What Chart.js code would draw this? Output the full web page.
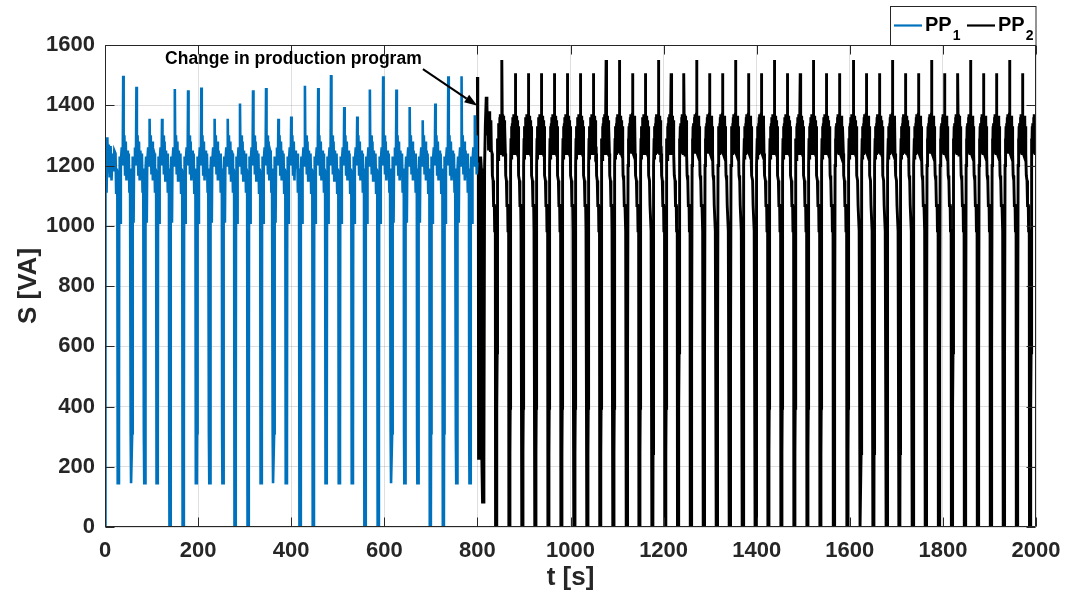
<!DOCTYPE html>
<html>
<head>
<meta charset="utf-8">
<title>Apparent power S, production programs PP1 and PP2</title>
<script src="https://cdn.jsdelivr.net/npm/chart.js@4.4.1/dist/chart.umd.min.js"></script>
<style>
  html, body { margin: 0; padding: 0; background: #ffffff; }
  canvas { display: block; }
</style>
</head>
<body>
<canvas id="chart" width="1066" height="599"></canvas>
<script>
// ---- axis ticks ----
const xTicks = [0, 200, 400, 600, 800, 1000, 1200, 1400, 1600, 1800, 2000];
const yTicks = [0, 200, 400, 600, 800, 1000, 1200, 1400, 1600];

// ---- PP1 (0 .. 800 s) ----
// opening stretch before the first dip: [t, S]
const pp1Opening = [[0, 0], [0.3, 311], [0.8, 1180], [2, 1210], [3.4, 1110], [5, 1294], [6.6, 1180],
  [8.2, 1270], [10, 1160], [12, 1265], [14, 1150], [16, 1240], [18, 1180], [20, 1250]];
// time of each dip bottom and its level
const pp1DipTime = [28.6, 57, 85.3, 112, 139.5, 168, 196.4, 225, 253.2, 279.5, 307.5, 335.5, 362, 389.5,
  419, 447.5, 475, 503.4, 531.3, 558.5, 587, 615.5, 644, 672, 699, 727, 755.5, 784];
const pp1DipLevel = [145, 145, 145, 145, 0, 0, 145, 145, 145, 0, 0, 145, 145, 145,
  0, 0, 145, 145, 145, 0, 0, 145, 145, 145, 0, 0, 145, 145];
// highest value of the cycle that follows each dip
const pp1Peak = [1498, 1461, 1355, 1355, 1454, 1450, 1459, 1355, 1355, 1406, 1450, 1457, 1355, 1363,
  1465, 1457, 1500, 1394, 1363, 1452, 1496, 1452, 1394, 1350, 1406, 1496, 1496, 1367];
// one cycle: samples before a dip and after it, offsets in s from the dip bottom
const pp1Lead = [[-6, 1240], [-4.6, 1110], [-3.2, 1190], [-2.1, 1100], [-1.6, 311]];
const pp1Trail = [[-1.0, 'dip'], [1.0, 'dip'], [1.4, 311], [2.0, 1180], [3, 1230], [4.4, 1010], [5.4, 1210],
  [7.4, 1260], [9.4, 1200], [10.5, 'peak'], [11.5, 1220], [13, 1300], [14.5, 1170], [16, 1280],
  [17.5, 1150], [19, 1250], [20.5, 1190]];
const pp1Closing = [[800, 1210]];

// ---- PP2 (800 .. 2000 s) ----
const pp2Opening = [[800, 1494], [800.8, 1210], [802, 1200], [802.5, 228], [804, 228], [805, 1200],
  [807, 1230], [808.5, 1190], [809.5, 228], [811, 83], [813, 83], [814, 228], [815.5, 1200], [817, 1330],
  [819, 1428], [820.5, 1400], [822, 1300], [823, 1370], [824, 1250], [825, 1380], [826, 1260],
  [827, 1360], [828, 1250], [829, 1350], [830, 1250]];
const pp2DipTime = [840, 868.6, 896.6, 924.5, 952.4, 980.3, 1008.3, 1036.2, 1063.8, 1092.1,
  1120.7, 1147.9, 1176, 1203.5, 1230.8, 1258.3, 1286.1, 1314, 1341.9, 1369.8,
  1397.5, 1425, 1452.9, 1480.8, 1508.8, 1536.7, 1565.5, 1594.7, 1623, 1650.8,
  1679, 1706.6, 1735, 1763, 1791.2, 1819.2, 1847, 1874.9, 1902.8, 1930.6, 1958.7, 1987];
const pp2DipLevel = pp2DipTime.map(() => 0);
const pp2Peak = [1550, 1506, 1506, 1506, 1506, 1506, 1506, 1506, 1550, 1550,
  1506, 1506, 1550, 1506, 1506, 1550, 1506, 1506, 1550, 1506,
  1506, 1550, 1506, 1506, 1550, 1506, 1506, 1550, 1506, 1506,
  1550, 1506, 1506, 1550, 1506, 1506, 1550, 1506, 1506, 1550, 1506, 1340];
const pp2Lead = [[-8.5, 1240], [-7.8, 1167], [-6.3, 1150], [-5.2, 1067], [-3.6, 1067], [-2.9, 983],
  [-1.5, 983], [-1.0, 'dip']];
const pp2Trail = [[1.0, 'dip'], [1.3, 244], [1.9, 394], [2.5, 578], [2.9, 1200], [3.6, 1290], [4.3, 1220],
  [5.0, 1330], [5.7, 1240], [6.4, 1340], [7.1, 1250], [7.8, 1360], [8.5, 1240], [9.2, 1370], [9.9, 1250],
  [10.6, 1365], [11.3, 1240], [12.2, 1370], [12.7, 'peak'], [13.3, 1370], [14.0, 1240], [14.7, 1360],
  [15.4, 1235], [16.1, 1365], [16.8, 1240], [17.5, 1350], [18.2, 1235], [18.8, 1330]];

// ---- assemble point lists ----
function buildSeries(opening, dipTime, dipLevel, peak, lead, trail, tEnd, closing) {
  const pts = opening.map(([x, y]) => ({ x, y }));
  const pick = (v, i) => (v === 'dip' ? dipLevel[i] : v === 'peak' ? peak[i] : v);
  dipTime.forEach((T, i) => {
    const next = dipTime[i + 1];
    const limit = next === undefined ? Infinity : next + lead[0][0] - 0.3;
    lead.forEach(([o, v]) => pts.push({ x: T + o, y: pick(v, i) }));
    trail.forEach(([o, v]) => {
      const x = T + o;
      if (x < limit) pts.push({ x, y: pick(v, i) });
    });
  });
  const out = pts.filter(p => p.x < tEnd);
  closing.forEach(([x, y]) => out.push({ x, y }));
  return out;
}

const pp1Points = buildSeries(pp1Opening, pp1DipTime, pp1DipLevel, pp1Peak, pp1Lead, pp1Trail, 800, pp1Closing);
const pp2Points = buildSeries(pp2Opening, pp2DipTime, pp2DipLevel, pp2Peak, pp2Lead, pp2Trail, 2000.01, []);

const FONT = "'Liberation Sans', Arial, Helvetica, sans-serif";
const INK = '#262626';

// frame, inward ticks, axis titles, legend and the note with its arrow
const decorations = {
  id: 'decorations',
  afterDatasetsDraw(chart) {
    const { ctx, chartArea: a, scales: { x, y } } = chart;
    ctx.save();
    ctx.strokeStyle = INK;
    ctx.lineWidth = 1;
    const L = Math.round(a.left) + 0.5, R = Math.round(a.right) - 0.5;
    const T = Math.round(a.top) + 0.5, B = Math.round(a.bottom) - 0.5;
    ctx.beginPath();
    ctx.rect(L, T, R - L, B - T);
    xTicks.forEach(v => {
      const px = Math.round(x.getPixelForValue(v)) + 0.5;
      ctx.moveTo(px, B); ctx.lineTo(px, B - 9);
      ctx.moveTo(px, T); ctx.lineTo(px, T + 9);
    });
    yTicks.forEach(v => {
      const py = Math.round(y.getPixelForValue(v)) + 0.5;
      ctx.moveTo(L, py); ctx.lineTo(L + 9, py);
      ctx.moveTo(R, py); ctx.lineTo(R - 9, py);
    });
    ctx.stroke();

    // axis titles
    ctx.fillStyle = INK;
    ctx.font = `bold 26px ${FONT}`;
    ctx.textAlign = 'center';
    ctx.textBaseline = 'middle';
    ctx.fillText('t [s]', (a.left + a.right) / 2, a.bottom + 51);
    ctx.save();
    ctx.translate(a.left - 76, (a.top + a.bottom) / 2);
    ctx.rotate(-Math.PI / 2);
    ctx.fillText('S [VA]', 0, 0);
    ctx.restore();

    // note and arrow
    ctx.fillStyle = '#000000';
    ctx.strokeStyle = '#000000';
    ctx.font = `bold 17.5px ${FONT}`;
    ctx.textAlign = 'left';
    ctx.textBaseline = 'alphabetic';
    ctx.fillText('Change in production program', x.getPixelForValue(129), y.getPixelForValue(1537));
    const x0 = x.getPixelForValue(683), y0 = y.getPixelForValue(1520);
    const x1 = x.getPixelForValue(800), y1 = y.getPixelForValue(1398);
    const ang = Math.atan2(y1 - y0, x1 - x0);
    const head = 13, half = 4.5;
    const bx = x1 - head * Math.cos(ang), by = y1 - head * Math.sin(ang);
    ctx.lineWidth = 2;
    ctx.beginPath();
    ctx.moveTo(x0, y0);
    ctx.lineTo(bx, by);
    ctx.stroke();
    ctx.beginPath();
    ctx.moveTo(x1, y1);
    ctx.lineTo(bx + half * Math.sin(ang), by - half * Math.cos(ang));
    ctx.lineTo(bx - half * Math.sin(ang), by + half * Math.cos(ang));
    ctx.closePath();
    ctx.fill();

    // legend box sitting on the top edge of the axes
    const lw = 146.5, lh = 39;
    const lx = Math.round(a.right - lw) + 0.5, ly = Math.round(a.top - lh) + 0.5;
    ctx.fillStyle = '#ffffff';
    ctx.fillRect(lx, ly, lw, lh);
    ctx.strokeStyle = INK;
    ctx.lineWidth = 1;
    ctx.strokeRect(lx, ly, lw - 1, lh);
    const midY = ly + 19;
    chart.data.datasets.forEach((ds, i) => {
      const sx = lx + 3.5 + i * 73;
      ctx.strokeStyle = ds.borderColor;
      ctx.lineWidth = 2.2;
      ctx.beginPath();
      ctx.moveTo(sx, midY);
      ctx.lineTo(sx + 28, midY);
      ctx.stroke();
      ctx.fillStyle = '#000000';
      ctx.textAlign = 'left';
      ctx.textBaseline = 'alphabetic';
      ctx.font = `bold 20px ${FONT}`;
      ctx.fillText(ds.label.slice(0, 2), sx + 31, midY + 5.5);
      const w = ctx.measureText(ds.label.slice(0, 2)).width;
      ctx.font = `bold 14px ${FONT}`;
      ctx.fillText(ds.label.slice(2), sx + 31 + w + 1, midY + 14.5);
    });
    ctx.restore();
  }
};

const plainLabel = v => String(v);

new Chart(document.getElementById('chart'), {
  type: 'line',
  data: {
    datasets: [
      { label: 'PP1', data: pp1Points, borderColor: '#0072BD', borderWidth: 2.6,
        pointRadius: 0, tension: 0, fill: false },
      { label: 'PP2', data: pp2Points, borderColor: '#000000', borderWidth: 2.9,
        pointRadius: 0, tension: 0, fill: false }
    ]
  },
  options: {
    responsive: false,
    animation: false,
    parsing: false,
    normalized: true,
    layout: { padding: { left: 0, right: 30, top: 45, bottom: 0 } },
    scales: {
      x: {
        type: 'linear', min: 0, max: 2000,
        afterBuildTicks: s => { s.ticks = xTicks.map(v => ({ value: v })); },
        afterFit: s => { s.height = 72; s.paddingRight = 0; s.paddingLeft = 0; },
        ticks: { color: INK, padding: 11, maxRotation: 0, autoSkip: false, callback: plainLabel,
          font: { family: FONT, size: 22, weight: 'bold' } },
        grid: { color: 'rgba(38,38,38,0.15)', lineWidth: 1, drawTicks: false },
        border: { display: false }
      },
      y: {
        type: 'linear', min: 0, max: 1600,
        afterBuildTicks: s => { s.ticks = yTicks.map(v => ({ value: v })); },
        afterFit: s => { s.width = 105; s.paddingTop = 0; s.paddingBottom = 0; },
        ticks: { color: INK, padding: 10, autoSkip: false, callback: plainLabel,
          font: { family: FONT, size: 22, weight: 'bold' } },
        grid: { color: 'rgba(38,38,38,0.15)', lineWidth: 1, drawTicks: false },
        border: { display: false }
      }
    },
    plugins: { legend: { display: false }, tooltip: { enabled: false } }
  },
  plugins: [decorations]
});
</script>
</body>
</html>
